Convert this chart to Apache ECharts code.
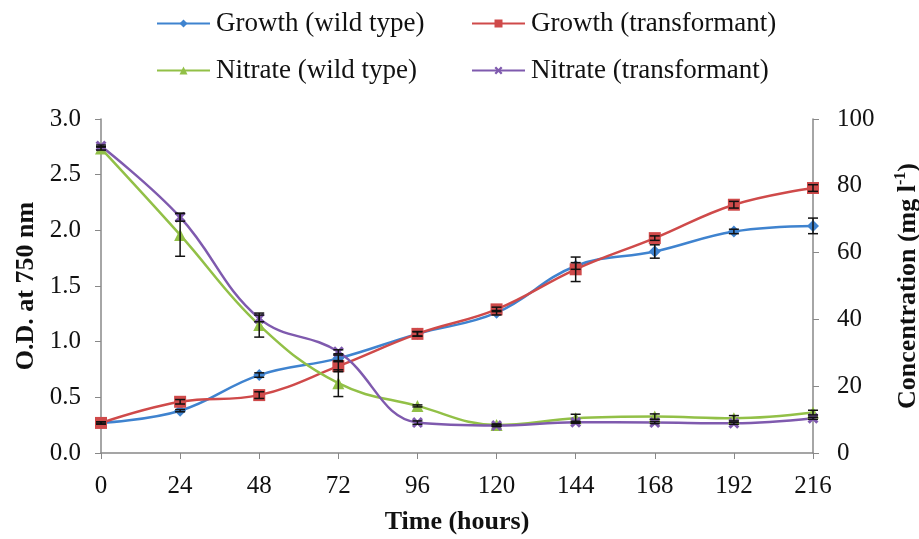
<!DOCTYPE html>
<html><head><meta charset="utf-8">
<script src="https://cdn.jsdelivr.net/npm/echarts@6/dist/echarts.min.js"></script>
<style>html,body{margin:0;padding:0;background:#fff}#c{width:919px;height:539px}</style>
</head><body><div id="c"></div>
<script>
var categories = ['0','24','48','72','96','120','144','168','192','216'];
var growthWild = [0.27,0.38,0.70,0.85,1.07,1.26,1.68,1.81,1.99,2.04];
var growthWildErr = [0.01,0.01,0.02,0.03,0.02,0.02,0.03,0.06,0.02,0.07];
var growthTrans = [0.27,0.46,0.52,0.78,1.07,1.29,1.65,1.93,2.23,2.38];
var growthTransErr = [0.01,0.02,0.03,0.05,0.02,0.02,0.11,0.02,0.03,0.03];
var nitrateWild = [91.2,65.3,38.3,20.9,14.1,8.4,10.4,10.9,10.4,12.1];
var nitrateWildErr = [0.5,6.4,3.6,4.0,0.3,0.3,1.2,0.8,0.8,0.7];
var nitrateTrans = [91.9,70.6,40.3,30.3,9.1,8.2,9.2,9.1,8.9,10.4];
var nitrateTransErr = [0.3,1.2,1.0,0.6,0.5,0.3,0.3,0.3,0.3,0.3];
var leftTicks = [0,0.5,1.0,1.5,2.0,2.5,3.0];
var rightTicks = [0,20,40,60,80,100];

var colors = {gw:'#3F83CF', gt:'#CF4A4A', nw:'#92C047', nt:'#7F5AAE'};
var font = 'Liberation Serif, Times New Roman, serif';
var xSym = 'path://M2,0 L5,3 L8,0 L10,2 L7,5 L10,8 L8,10 L5,7 L2,10 L0,8 L3,5 L0,2 Z';

function errSeries(vals, errs, yIdx){
  return {
    type:'custom', yAxisIndex:yIdx, z:5, silent:true,
    data: vals.map(function(v,i){return [i, v-errs[i], v+errs[i]];}),
    renderItem: function(params, api){
      var lo = api.coord([api.value(0), api.value(1)]);
      var hi = api.coord([api.value(0), api.value(2)]);
      var w = 5;
      var st = {stroke:'#111', lineWidth:1.5};
      return {type:'group', children:[
        {type:'line', shape:{x1:lo[0],y1:lo[1],x2:hi[0],y2:hi[1]}, style:st},
        {type:'line', shape:{x1:lo[0]-w,y1:lo[1],x2:lo[0]+w,y2:lo[1]}, style:st},
        {type:'line', shape:{x1:hi[0]-w,y1:hi[1],x2:hi[0]+w,y2:hi[1]}, style:st}
      ]};
    }
  };
}
function lineSeries(name, vals, yIdx, color, symbol, size){
  return {
    name:name, type:'line', yAxisIndex:yIdx, data:vals, smooth:0.4,
    symbol:symbol, symbolSize:size, z:4,
    lineStyle:{color:color, width:2.5}, itemStyle:{color:color}
  };
}
var legendCommon = {itemWidth:53, itemHeight:10, itemGap:0,
  textStyle:{fontFamily:font, fontSize:27, color:'#111', padding:[0,0,0,1]}};
function leg(name, left, top){
  return Object.assign({data:[name], left:left, top:top, padding:0}, legendCommon);
}
var titleStyle = {fontFamily:font, fontSize:26, fontWeight:'bold', color:'#111'};

var chart = echarts.init(document.getElementById('c'), null, {renderer:'canvas'});
chart.setOption({
  animation:false,
  backgroundColor:'#fff',
  legend:[
    leg('Growth (wild type)',156,10),
    leg('Growth (transformant)',471,10),
    leg('Nitrate (wild type)',156,57),
    leg('Nitrate (transformant)',471,57)
  ],
  grid:{left:101, right:106, top:119, bottom:86, containLabel:false, outerBoundsMode:'none'},
  xAxis:{
    type:'category', data:categories, boundaryGap:false,
    name:'Time (hours)', nameLocation:'middle', nameGap:56,
    nameTextStyle:titleStyle,
    axisLine:{lineStyle:{color:'#888', width:1.5}},
    axisTick:{alignWithLabel:true, length:6, lineStyle:{color:'#888'}},
    axisLabel:{fontFamily:font, fontSize:25, color:'#111', margin:21}
  },
  yAxis:[{
    type:'value', min:leftTicks[0], max:leftTicks[leftTicks.length-1], interval:0.5,
    name:'O.D. at 750 nm', nameLocation:'middle', nameGap:59, nameRotate:90,
    nameTextStyle:titleStyle,
    axisLine:{show:true, lineStyle:{color:'#888', width:1.5}},
    axisTick:{show:true, length:6, lineStyle:{color:'#888'}},
    splitLine:{show:false},
    axisLabel:{fontFamily:font, fontSize:25, color:'#111', margin:20,
      formatter:function(v){return v.toFixed(1);}}
  },{
    type:'value', min:rightTicks[0], max:rightTicks[rightTicks.length-1], interval:20,
    position:'right',
    name:'{a|Concentration (mg l}{s|-1}{a|)}', nameLocation:'middle', nameGap:80, nameRotate:90,
    nameTextStyle:{color:'#111', rich:{
      a:{fontFamily:font, fontSize:26, fontWeight:'bold', color:'#111', lineHeight:30},
      s:{fontFamily:font, fontSize:16, fontWeight:'bold', color:'#111', verticalAlign:'top', lineHeight:30, padding:[0,0,12,0]}
    }},
    axisLine:{show:true, lineStyle:{color:'#888', width:1.5}},
    axisTick:{show:true, length:6, lineStyle:{color:'#888'}},
    splitLine:{show:false},
    axisLabel:{fontFamily:font, fontSize:25, color:'#111', margin:24}
  }],
  series:[
    lineSeries('Growth (wild type)', growthWild, 0, colors.gw, 'diamond', 12),
    lineSeries('Growth (transformant)', growthTrans, 0, colors.gt, 'rect', 12),
    lineSeries('Nitrate (wild type)', nitrateWild, 1, colors.nw, 'triangle', 12),
    lineSeries('Nitrate (transformant)', nitrateTrans, 1, colors.nt, xSym, 11),
    errSeries(growthWild, growthWildErr, 0),
    errSeries(growthTrans, growthTransErr, 0),
    errSeries(nitrateWild, nitrateWildErr, 1),
    errSeries(nitrateTrans, nitrateTransErr, 1)
  ]
});
</script></body></html>
